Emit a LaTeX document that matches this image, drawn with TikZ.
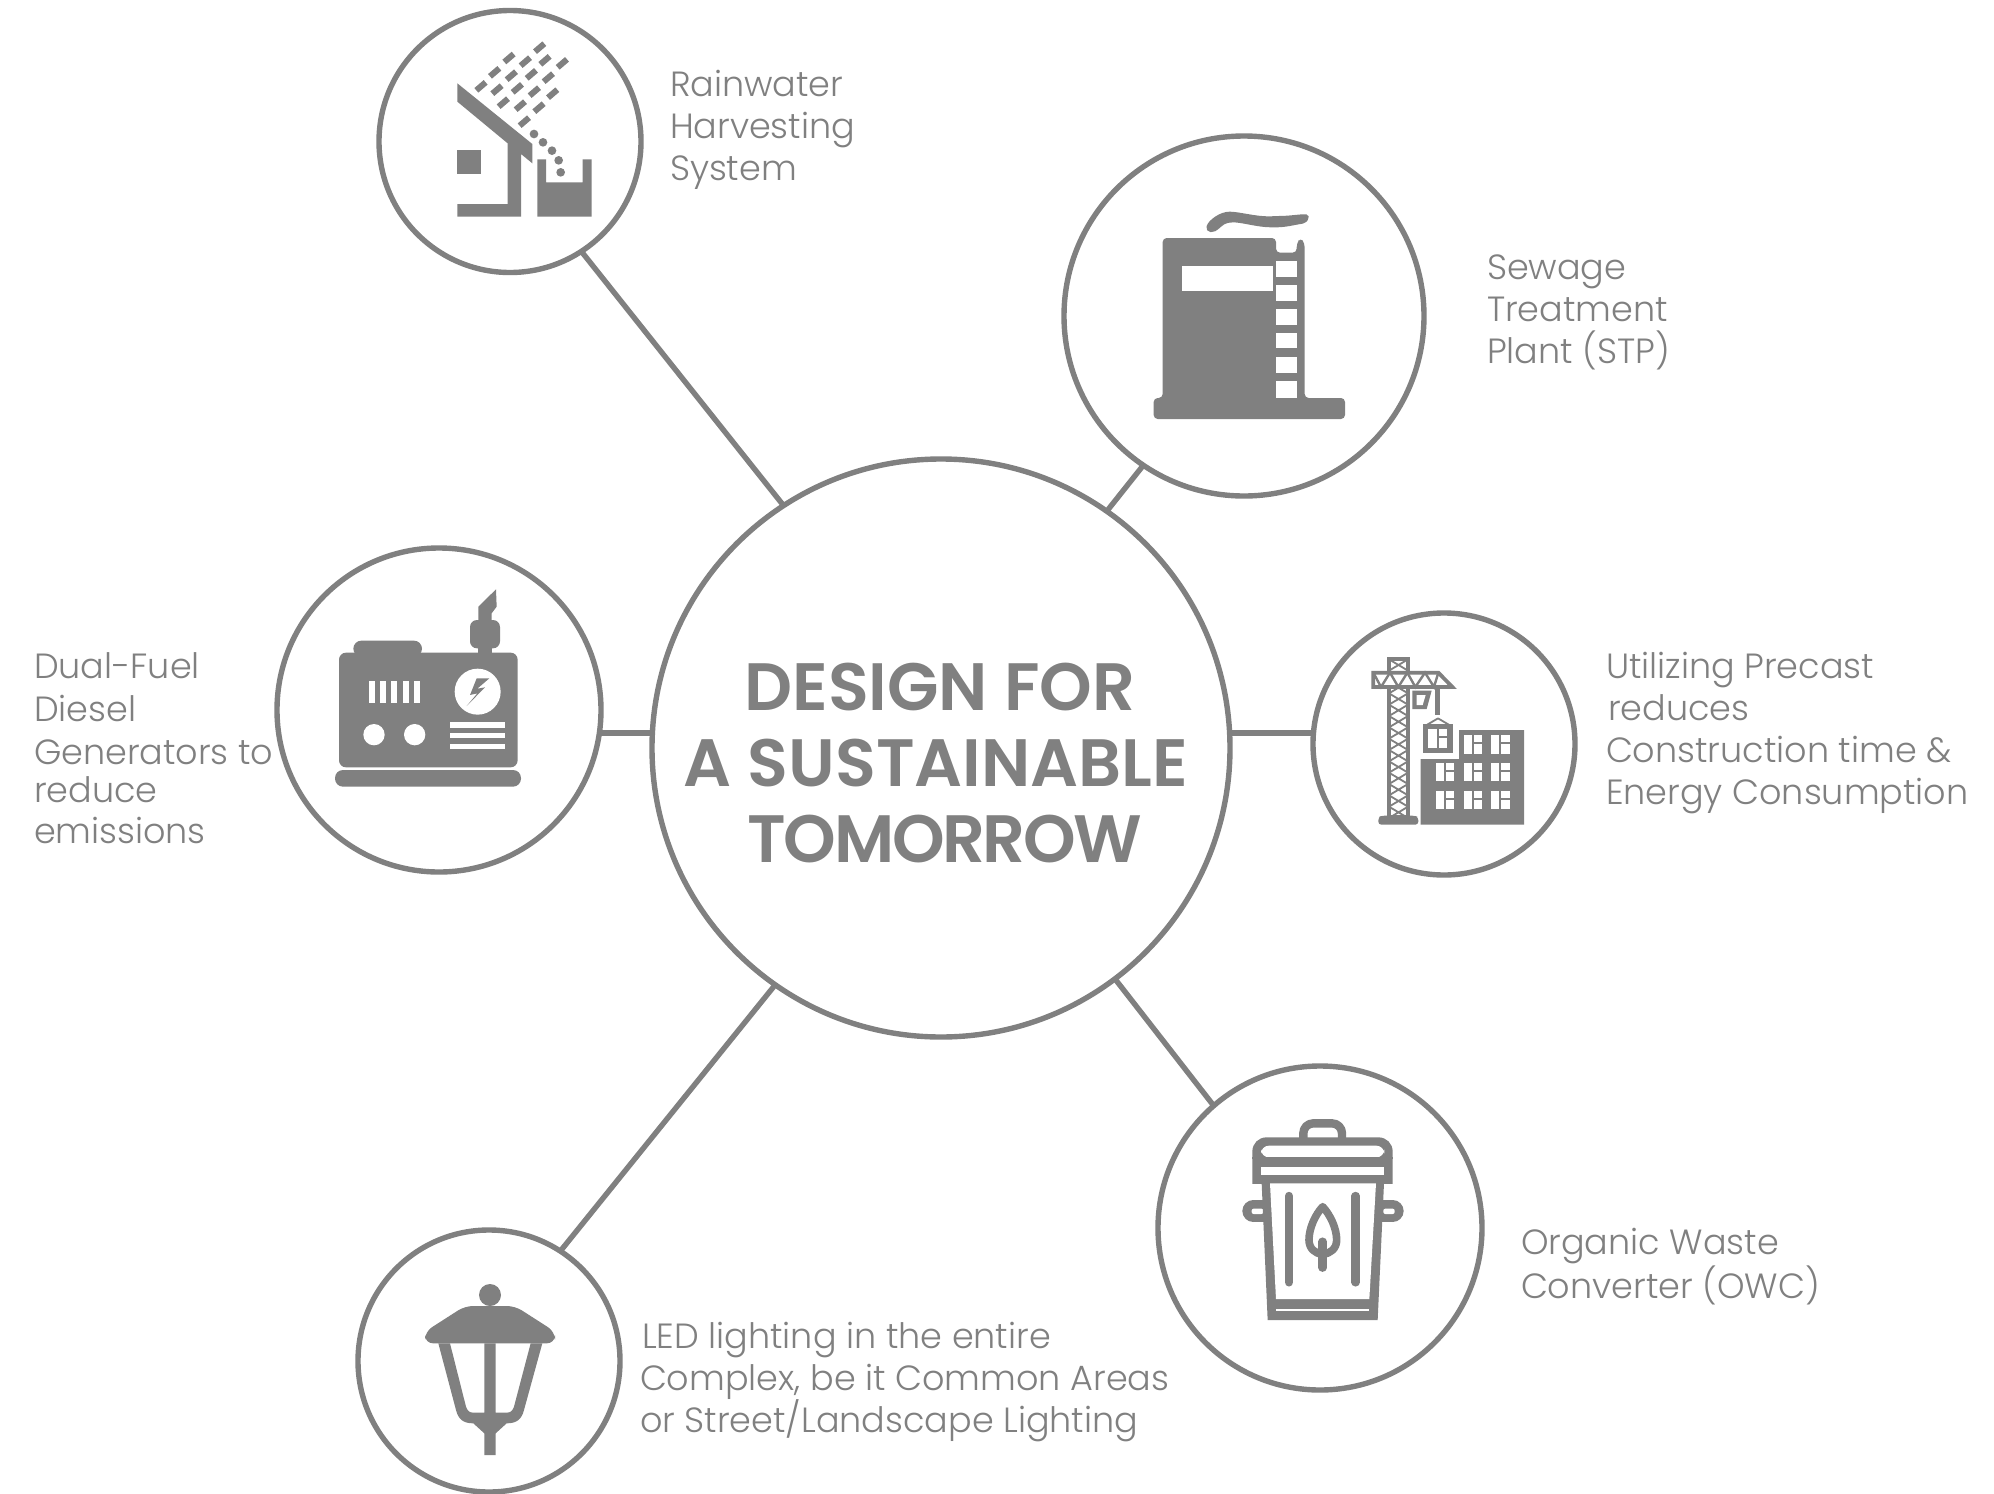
\documentclass[tikz,border=0pt]{standalone}
\usepackage{fontspec}
\setmainfont{Poppins}[UprightFont=* Light,BoldFont=* SemiBold]
\usepackage{tikz}
\usetikzlibrary{positioning,calc}
\definecolor{icongray}{HTML}{808080}
\tikzset{
  ringnode/.style={draw=icongray, circle, line width=2.7pt, fill=white, inner sep=0pt, outer sep=0pt},
  linkline/.style={draw=icongray, line width=2.7pt},
  labelnode/.style={anchor=west, align=left, text=icongray, font=\fontsize{17.5}{21}\selectfont, inner sep=0pt, outer sep=0pt},
  titlenode/.style={align=center, text=icongray, font=\fontsize{33.5}{38}\selectfont\bfseries, inner sep=0pt},
  iconfill/.style={fill=icongray},
  holefill/.style={fill=white},
  raindash/.style={draw=icongray, line width=3pt},
  binline/.style={draw=icongray, line width=4.2pt, line cap=round, line join=round},
  lattice/.style={draw=icongray, line width=0.9pt}
}
% window with one tall pane and two short panes
\newcommand{\winpane}[2]{
  \fill[holefill] (#1,#2) rectangle ++(25,55);
  \fill[holefill] (#1+31,#2) rectangle ++(25,20);
  \fill[holefill] (#1+31,#2+27) rectangle ++(25,28);
}
\begin{document}
\begin{tikzpicture}[x=0.5pt, y=-0.5pt]
\path[use as bounding box, fill=white] (0,0) rectangle (1994,1494);

% Circles
\node[ringnode, minimum size=289pt] (design) at (941,748) {};
\node[ringnode, minimum size=131pt] (rain) at (510,141.5) {};
\node[ringnode, minimum size=180pt] (sewage) at (1244,316) {};
\node[ringnode, minimum size=162pt] (genset) at (439,710) {};
\node[ringnode, minimum size=131pt] (precast) at (1444,744) {};
\node[ringnode, minimum size=162pt] (waste) at (1320,1228) {};
\node[ringnode, minimum size=131pt] (lamp) at (489,1361) {};

% Connectors
\draw[linkline] (design.123.2) -- (rain.-57.2);
\draw[linkline] (design.55.3) -- (sewage.236.6);
\draw[linkline] (design.177.4) -- (design.177.4 -| genset.east);
\draw[linkline] (design.3.6) -- (design.3.6 -| precast.west);
\draw[linkline] (design.-53.6) -- (waste.131);
\draw[linkline] (design.235.2) -- (lamp.57);

% Texts
\node[titlenode] (title) at (936,763) {\hspace*{3.8pt}DESIGN FOR\\A SUSTAINABLE\\\hspace*{9pt}{\addfontfeatures{LetterSpace=-3.5}TOMORROW}};
\node[labelnode] (rainlabel) at (670,129.5) {Rainwater\\Harvesting\\System};
\node[labelnode] (sewagelabel) at (1487,312) {Sewage\\Treatment\\Plant (STP)};
\node[labelnode] (precastlabel) at (1606,733) {Utilizing Precast\\\hspace*{1pt}reduces\\Construction time \&\\Energy Consumption};
\node[labelnode] (wastelabel) at (1521,1267) {Organic Waste\\Converter (OWC)};
\node[labelnode] (lamplabel) at (640,1382) {\hspace*{1pt}LED lighting in the entire\\Complex, be it Common Areas\\or Street/Landscape Lighting};
\node[labelnode] (gensetlabel) at (34,748) {Dual-Fuel\\[0.6pt]Diesel\\[0.6pt]Generators to\\[-1.9pt]reduce\\[-0.6pt]emissions};

% Rainwater icon
\begin{scope}[shift={(370,0)}, scale=1/3]
\fill[iconfill] (262,250) -- (487,432) -- (487,490) -- (453,462) -- (453,650) -- (262,650) -- (262,612) -- (413,612) -- (413,430) -- (262,305) -- cycle;
\fill[iconfill] (262,451) rectangle (333,522);
\fill[iconfill] (502,478) -- (528,478) -- (528,547) -- (638,547) -- (638,478) -- (665,478) -- (665,650) -- (502,650) -- cycle;
\foreach \cx/\cy in {509/143,417/174,466/185,525/181,577/190,374/217,424/227,484/223,535/233,333/259,381/269,442/265,493/275,548/281,400/308,451/317,507/323,463/365}
  \draw[raindash] (\cx-14,\cy+12) -- (\cx+14,\cy-12);
\foreach \cx/\cy in {492/402,519/427,546/452,566/481,572/517}
  \fill[iconfill] (\cx,\cy) circle (13);
\end{scope}

% Sewage plant icon
\begin{scope}[shift={(1060,130)}, scale=1/3]
\fill[iconfill, rounded corners=2pt] (308,795) -- (308,324) -- (648,324) -- (648,368) -- (710,368) -- (710,340) -- (722,323) -- (734,340) -- (734,804) -- (855,804) -- (855,867) -- (281,867) -- (281,804) -- (308,804) -- cycle;
\fill[holefill] (365,408) rectangle (640,484);
\foreach \wy/\wh in {393/440,466/513,537/584,608/655,681/728,753/804}
  \fill[holefill] (648,\wy) rectangle (710,\wh);
\fill[iconfill, rounded corners=1pt] (438,295) .. controls (445,270) and (480,245) .. (515,245) .. controls (560,250) and (600,262) .. (650,258) .. controls (690,258) and (720,252) .. (745,253) -- (747,266) -- (735,280) .. controls (700,285) and (680,292) .. (640,292) .. controls (590,292) and (540,275) .. (510,278) .. controls (490,280) and (475,300) .. (460,306) -- (445,306) -- cycle;
\end{scope}

% Generator icon
\begin{scope}[shift={(270,550)}, scale=1/3]
\fill[iconfill, rounded corners=4pt] (250,320) -- (250,272) -- (456,272) -- (456,320) -- cycle;
\fill[iconfill, rounded corners=3.5pt] (207,308) rectangle (743,652);
\fill[iconfill, rounded corners=4pt] (195,660) rectangle (753,710);
\fill[iconfill] (623,290) rectangle (665,320);
\fill[iconfill, rounded corners=3.5pt] (600,210) rectangle (690,295);
\fill[iconfill] (625,215) -- (625,170) -- (678,118) -- (680,170) -- (665,190) -- (665,215) -- cycle;
\foreach \vx in {297,331,364,398,432}
  \fill[holefill] (\vx,393) rectangle ++(18,65);
\fill[holefill] (312,554) circle (32);
\fill[holefill] (434,554) circle (32);
\fill[holefill] (623,425) circle (69);
\fill[iconfill] (658,385) -- (620,385) -- (600,435) -- (622,430) -- (590,468) -- (645,412) -- (622,416) -- cycle;
\foreach \ly in {517,548,581}
  \fill[holefill] (540,\ly) rectangle (706,\ly+16);
\end{scope}

% Crane and building icon
\begin{scope}[shift={(1310,610)}, scale=1/3]
\draw[lattice, line width=1.9pt, fill=white] (237,148) rectangle (294,622);
\foreach \ty in {148,182,...,590}
  \draw[lattice] (237,\ty) -- (294,\ty+34) (294,\ty) -- (237,\ty+34);
\draw[lattice, line width=1.9pt, fill=white, line join=miter] (190,188) -- (385,188) -- (427,231) -- (190,231) -- cycle;
\draw[lattice, line width=1.2pt] (190,188) -- (213,231) -- (240,188) -- (265,231) -- (292,188) -- (316,231) -- (345,188) -- (372,231) -- (385,188);
\fill[iconfill] (307,242) -- (365,242) -- (350,297) -- (307,297) -- cycle;
\fill[holefill] (320,255) -- (347,255) -- (338,285) -- (320,285) -- cycle;
\fill[iconfill] (376,235) rectangle (391,315);
\draw[lattice] (384,325) -- (350,345) (384,325) -- (418,345);
\fill[iconfill] (340,342) rectangle (428,428);
\winpane{355}{358}
\fill[iconfill] (332,447) -- (447,447) -- (447,360) -- (642,360) -- (642,644) -- (332,644) -- cycle;
\foreach \wx/\wy in {461/376,543/376,377/459,461/459,543/459,377/543,461/543,543/543}
  {\winpane{\wx}{\wy}}
\fill[iconfill, rounded corners=1.5pt] (205,644) -- (205,622) -- (215,617) -- (315,617) -- (325,622) -- (325,644) -- cycle;
\end{scope}

% Waste bin icon
\begin{scope}[shift={(1200,1100)}, scale=1/3]
\draw[binline, rounded corners=5pt] (310,125) -- (310,70) -- (426,70) -- (426,125);
\fill[iconfill] (160,333) circle (33);
\fill[iconfill] (160,300) rectangle (200,367);
\fill[iconfill] (578,333) circle (33);
\fill[iconfill] (540,300) rectangle (578,367);
\fill[holefill, rounded corners=1pt] (155,326) rectangle (190,342);
\fill[holefill, rounded corners=1pt] (550,326) rectangle (584,342);
\fill[iconfill, rounded corners=7pt] (157,300) -- (157,112) -- (578,112) -- (578,300) -- cycle;
\fill[holefill] (157,252) rectangle (578,300);
\fill[holefill, rounded corners=4pt] (183,172) -- (183,137) -- (553,137) -- (553,172) -- cycle;
\fill[iconfill] (157,172) rectangle (578,176);
\fill[holefill] (183,202) rectangle (553,226);
\fill[iconfill] (185,250) -- (552,250) -- (533,660) -- (203,660) -- cycle;
\fill[holefill] (210,250) -- (528,250) -- (508,597) -- (228,597) -- cycle;
\fill[holefill] (228,626) rectangle (508,633);
\draw[binline] (267,288) -- (267,547);
\draw[binline] (467,288) -- (467,547);
\draw[binline, line width=3.8pt] (368,320) .. controls (345,345) and (327,385) .. (327,420) .. controls (327,445) and (345,462) .. (368,462) .. controls (391,462) and (410,445) .. (410,420) .. controls (410,385) and (391,345) .. (368,320) -- cycle;
\draw[binline] (368,425) -- (368,503);
\end{scope}

% Lamp icon
\begin{scope}[shift={(390,1260)}, scale=1/3]
\fill[iconfill] (300,105) circle (33);
\fill[iconfill, rounded corners=4pt] (225,138) -- (375,138) -- (495,215) -- (495,250) -- (105,250) -- (105,215) -- cycle;
\fill[iconfill] (145,250) -- (198,450) .. controls (205,478) and (220,490) .. (250,490) -- (283,520) -- (283,585) -- (317,585) -- (317,520) -- (350,490) .. controls (380,490) and (395,478) .. (402,450) -- (457,250) -- (422,250) -- (372,440) .. controls (368,452) and (362,458) .. (350,458) -- (317,458) -- (317,250) -- (283,250) -- (283,458) -- (250,458) .. controls (238,458) and (232,452) .. (228,440) -- (180,250) -- cycle;
\end{scope}
\end{tikzpicture}
\end{document}
